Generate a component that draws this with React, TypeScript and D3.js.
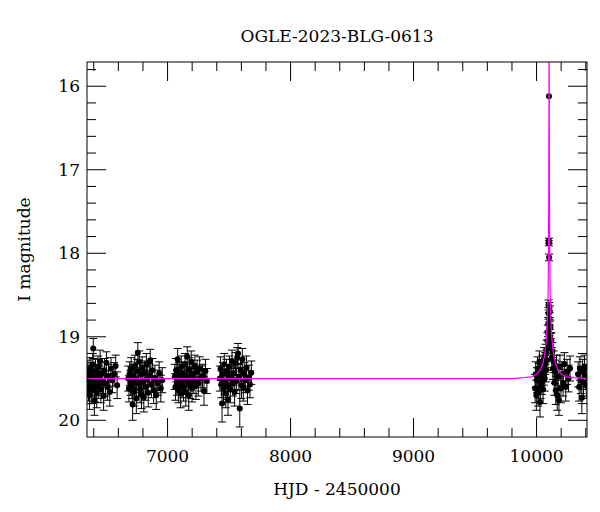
import * as d3 from 'd3';

// photometry, one array per observing season: [HJD-2450000, I mag, error]
const season2013: [number, number, number][] = [
  [6348, 19.55, 0.15], [6352, 19.42, 0.14], [6357, 19.61, 0.16], [6361, 19.48, 0.14], [6366, 19.70, 0.17],
  [6370, 19.38, 0.13], [6374, 19.52, 0.15], [6379, 19.64, 0.16], [6383, 19.45, 0.14], [6388, 19.57, 0.15],
  [6392, 19.33, 0.13], [6396, 19.14, 0.12], [6401, 19.50, 0.15], [6405, 19.76, 0.18], [6410, 19.62, 0.16],
  [6414, 19.41, 0.14], [6419, 19.55, 0.15], [6424, 19.68, 0.17], [6429, 19.47, 0.14], [6434, 19.36, 0.13],
  [6440, 19.58, 0.16], [6446, 19.50, 0.15], [6452, 19.29, 0.13], [6458, 19.63, 0.16], [6465, 19.44, 0.14],
  [6472, 19.53, 0.15], [6480, 19.71, 0.17], [6487, 19.40, 0.14], [6495, 19.56, 0.15], [6503, 19.31, 0.13],
  [6511, 19.60, 0.16], [6520, 19.47, 0.14], [6530, 19.66, 0.17], [6540, 19.38, 0.13], [6552, 19.52, 0.15],
  [6565, 19.45, 0.14], [6578, 19.35, 0.13], [6590, 19.58, 0.16],
];

const season2014: [number, number, number][] = [
  [6680, 19.50, 0.15], [6686, 19.62, 0.16], [6692, 19.44, 0.14], [6698, 19.55, 0.15], [6704, 19.38, 0.13],
  [6710, 19.58, 0.16], [6716, 19.81, 0.19], [6722, 19.47, 0.14], [6728, 19.66, 0.17], [6734, 19.35, 0.13],
  [6740, 19.52, 0.15], [6746, 19.74, 0.18], [6752, 19.41, 0.14], [6758, 19.19, 0.12], [6764, 19.56, 0.15],
  [6770, 19.30, 0.13], [6776, 19.63, 0.16], [6782, 19.45, 0.14], [6788, 19.69, 0.17], [6794, 19.37, 0.13],
  [6800, 19.54, 0.15], [6807, 19.72, 0.18], [6814, 19.43, 0.14], [6821, 19.60, 0.16], [6828, 19.33, 0.13],
  [6835, 19.51, 0.15], [6843, 19.67, 0.17], [6851, 19.46, 0.14], [6859, 19.28, 0.13], [6868, 19.57, 0.16],
  [6877, 19.40, 0.14], [6887, 19.64, 0.16], [6897, 19.49, 0.15], [6908, 19.70, 0.17], [6920, 19.55, 0.15],
  [6932, 19.44, 0.14], [6945, 19.62, 0.16], [6957, 19.52, 0.15],
];

const season2015: [number, number, number][] = [
  [7058, 19.48, 0.15], [7064, 19.60, 0.16], [7070, 19.40, 0.14], [7076, 19.55, 0.15], [7082, 19.27, 0.13],
  [7088, 19.63, 0.16], [7094, 19.45, 0.14], [7100, 19.52, 0.15], [7106, 19.68, 0.17], [7112, 19.36, 0.13],
  [7118, 19.57, 0.16], [7124, 19.44, 0.14], [7130, 19.61, 0.16], [7136, 19.50, 0.15], [7142, 19.33, 0.13],
  [7148, 19.66, 0.17], [7154, 19.47, 0.14], [7160, 19.24, 0.12], [7166, 19.54, 0.15], [7172, 19.70, 0.18],
  [7178, 19.39, 0.14], [7185, 19.58, 0.16], [7192, 19.30, 0.13], [7199, 19.62, 0.16], [7206, 19.46, 0.14],
  [7214, 19.53, 0.15], [7222, 19.35, 0.13], [7231, 19.59, 0.16], [7240, 19.42, 0.14], [7250, 19.56, 0.15],
  [7261, 19.38, 0.14], [7272, 19.50, 0.15], [7284, 19.47, 0.14], [7296, 19.65, 0.17], [7308, 19.41, 0.14],
  [7320, 19.53, 0.15],
];

const season2016: [number, number, number][] = [
  [7425, 19.50, 0.15], [7431, 19.38, 0.14], [7437, 19.57, 0.16], [7443, 19.80, 0.22], [7449, 19.45, 0.14],
  [7455, 19.62, 0.16], [7461, 19.33, 0.13], [7467, 19.54, 0.15], [7473, 19.68, 0.17], [7479, 19.41, 0.14],
  [7485, 19.59, 0.16], [7491, 19.75, 0.19], [7497, 19.47, 0.14], [7503, 19.36, 0.13], [7510, 19.63, 0.16],
  [7517, 19.50, 0.15], [7524, 19.29, 0.13], [7531, 19.56, 0.15], [7538, 19.44, 0.14], [7545, 19.66, 0.17],
  [7552, 19.32, 0.13], [7559, 19.53, 0.15], [7566, 19.25, 0.12], [7573, 19.20, 0.12], [7580, 19.48, 0.15],
  [7587, 19.86, 0.22], [7594, 19.40, 0.14], [7601, 19.58, 0.16], [7608, 19.27, 0.13], [7616, 19.61, 0.16],
  [7624, 19.45, 0.14], [7632, 19.52, 0.15], [7641, 19.37, 0.14], [7650, 19.64, 0.17], [7660, 19.49, 0.15],
  [7670, 19.57, 0.16], [7681, 19.43, 0.14],
];

const season2023: [number, number, number][] = [
  [9988, 19.62, 0.17], [9993, 19.45, 0.15], [9998, 19.70, 0.18], [10003, 19.52, 0.15], [10008, 19.38, 0.14],
  [10013, 19.66, 0.17], [10018, 19.47, 0.15], [10023, 19.30, 0.13], [10028, 19.78, 0.18], [10033, 19.58, 0.16],
  [10038, 19.41, 0.14], [10043, 19.54, 0.15], [10048, 19.35, 0.13], [10053, 19.63, 0.17], [10058, 19.44, 0.14],
  [10062, 19.26, 0.13], [10066, 19.50, 0.15], [10070, 19.32, 0.13], [10074, 19.21, 0.12], [10078, 19.40, 0.14],
  [10082, 19.15, 0.11], [10085, 19.28, 0.12], [10088, 19.05, 0.10], [10091, 18.95, 0.09], [10093, 19.10, 0.10],
  [10095, 18.85, 0.08], [10097, 18.72, 0.07], [10098, 18.62, 0.06], [10100, 17.88, 0.03],
  [10100.5, 17.85, 0.03], [10101, 16.12, 0.008], [10102, 18.05, 0.04], [10103, 18.65, 0.06], [10104, 18.78, 0.07],
  [10106, 18.90, 0.08], [10108, 18.70, 0.07], [10110, 19.00, 0.09], [10113, 18.88, 0.08], [10116, 19.12, 0.10],
  [10120, 19.05, 0.10], [10124, 19.25, 0.12], [10128, 19.18, 0.11], [10133, 19.38, 0.13], [10138, 19.30, 0.13],
  [10144, 19.55, 0.15], [10150, 19.42, 0.14], [10156, 19.64, 0.17], [10162, 19.35, 0.13], [10168, 19.70, 0.18],
  [10175, 19.48, 0.15], [10182, 19.76, 0.18], [10190, 19.36, 0.14], [10198, 19.62, 0.17], [10207, 19.45, 0.15],
  [10216, 19.55, 0.16], [10226, 19.33, 0.14], [10237, 19.60, 0.17], [10248, 19.42, 0.15], [10260, 19.50, 0.16],
  [10272, 19.38, 0.15],
];

const season2024: [number, number, number][] = [
  [10338, 19.45, 0.15], [10346, 19.60, 0.17], [10352, 19.38, 0.14], [10360, 19.52, 0.16], [10368, 19.73, 0.19],
  [10375, 19.42, 0.15], [10382, 19.55, 0.16], [10390, 19.36, 0.14], [10397, 19.48, 0.15], [10404, 19.58, 0.16],
];

// model light curve: [HJD-2450000, I mag]
const model: [number, number][] = [
  [6300, 19.5], [9800, 19.5], [9900, 19.49], [9960, 19.48], [10000, 19.45], [10030, 19.4],
  [10050, 19.32], [10065, 19.22], [10075, 19.1], [10083, 18.95], [10089, 18.75], [10094, 18.45],
  [10097, 18.0], [10099, 17.3], [10100.5, 16.3], [10101.5, 15.6], [10102, 15.3], [10102.5, 15.6],
  [10103.5, 16.3], [10105, 17.3], [10107, 18.0], [10110, 18.45], [10115, 18.75], [10121, 18.95],
  [10129, 19.1], [10139, 19.22], [10154, 19.32], [10174, 19.4], [10204, 19.45], [10244, 19.48],
  [10304, 19.49], [10404, 19.5], [10450, 19.5],
];

const xLabels = [7000, 8000, 9000, 10000];
const yLabels = [16, 17, 18, 19, 20];

const W = 600;
const H = 512;
const left = 87, right = 587, top = 62, bottom = 437;
const font = '"DejaVu Serif", serif';

export default function App() {
  const x = d3.scaleLinear().domain([6345, 10410]).range([left, right]);
  const y = d3.scaleLinear().domain([15.71, 20.2]).range([top, bottom]);

  const points = [...season2013, ...season2014, ...season2015, ...season2016, ...season2023, ...season2024];

  const line = d3.line<[number, number]>()
    .x(d => x(d[0]))
    .y(d => y(d[1]));

  const xMinor = d3.range(6400, 10410, 200);
  const yMinor = d3.range(15.8, 20.2, 0.2).map(v => +v.toFixed(1));
  const isMajorX = (v: number) => v % 1000 === 0;
  const isMajorY = (v: number) => Math.abs(v - Math.round(v)) < 1e-6;

  return (
    <svg width={W} height={H} style={{ position: 'absolute', left: 0, top: 0, background: '#fff' }}>
      <defs>
        <clipPath id="plot">
          <rect x={left} y={top} width={right - left} height={bottom - top} />
        </clipPath>
      </defs>

      <g clipPath="url(#plot)">
        {points.map((p, i) => {
          const cx = x(p[0]);
          const y1 = y(p[1] - p[2]);
          const y2 = y(p[1] + p[2]);
          // caps hidden under the dot when the bar is shorter than the marker
          const caps = y2 - y1 > 5;
          return (
            <g key={i} stroke="#000" strokeWidth={1}>
              <line x1={cx} x2={cx} y1={y1} y2={y2} />
              {caps && <line x1={cx - 4} x2={cx + 4} y1={y1} y2={y1} />}
              {caps && <line x1={cx - 4} x2={cx + 4} y1={y2} y2={y2} />}
              <circle cx={cx} cy={y(p[1])} r={3} fill="#000" stroke="none" />
            </g>
          );
        })}
        <path d={line(model) ?? ''} fill="none" stroke="#ff00ff" strokeWidth={1.2} />
      </g>

      {/* ticks on all four sides */}
      <g stroke="#000" strokeWidth={1}>
        {xMinor.map(v => {
          const len = isMajorX(v) ? 19 : 9;
          return (
            <g key={'x' + v}>
              <line x1={x(v)} x2={x(v)} y1={bottom} y2={bottom - len} />
              <line x1={x(v)} x2={x(v)} y1={top} y2={top + len} />
            </g>
          );
        })}
        {yMinor.map(v => {
          const len = isMajorY(v) ? 19 : 9;
          return (
            <g key={'y' + v}>
              <line x1={left} x2={left + len} y1={y(v)} y2={y(v)} />
              <line x1={right} x2={right - len} y1={y(v)} y2={y(v)} />
            </g>
          );
        })}
      </g>
      <rect x={left} y={top} width={right - left} height={bottom - top} fill="none" stroke="#000" strokeWidth={1} />

      <g fontFamily={font} fontSize={17} fill="#000">
        {xLabels.map(v => (
          <text key={v} x={x(v)} y={462} textAnchor="middle">{v}</text>
        ))}
        {yLabels.map(v => (
          <text key={v} x={80} y={y(v) + 6} textAnchor="end">{v}</text>
        ))}
        <text x={(left + right) / 2} y={495} textAnchor="middle">HJD - 2450000</text>
        <text transform={`translate(30,${(top + bottom) / 2}) rotate(-90)`} textAnchor="middle">I magnitude</text>
        <text x={(left + right) / 2} y={42} textAnchor="middle">OGLE-2023-BLG-0613</text>
      </g>
    </svg>
  );
}
